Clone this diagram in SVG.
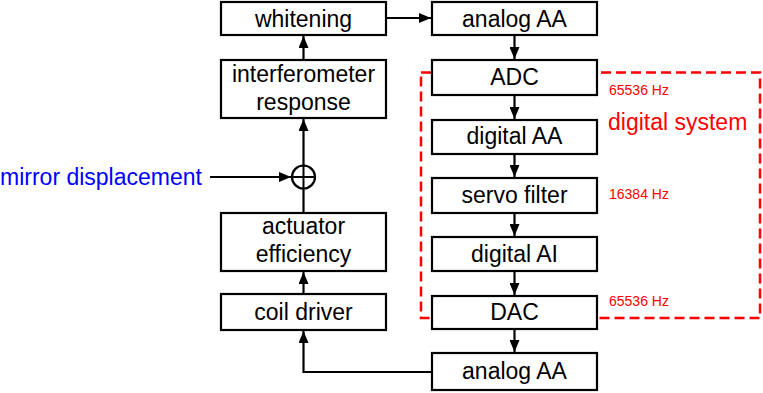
<svg xmlns="http://www.w3.org/2000/svg" width="763" height="393" viewBox="0 0 763 393">
<defs>
<marker id="ah" viewBox="0 0 12 10" refX="12" refY="5" markerWidth="12" markerHeight="10" markerUnits="userSpaceOnUse" orient="auto">
<path d="M0,0 L12,5 L0,10 Z" fill="#000"/>
</marker>
</defs>
<style>
.box{fill:#fff;stroke:#000;stroke-width:2.2}
.t{font-family:"Liberation Sans",Arial,sans-serif;font-size:23px;fill:#000;text-anchor:middle}
.c{fill:none;stroke:#000;stroke-width:2.2}
.a{fill:none;stroke:#000;stroke-width:2.2;marker-end:url(#ah)}
.hz{font-family:"Liberation Sans",Arial,sans-serif;font-size:14px;fill:#ff0000}
</style>
<rect x="421" y="72.5" width="339" height="245.5" fill="none" stroke="#ff0000" stroke-width="2.5" stroke-dasharray="10,5"/>
<g id="connectors">
<path class="a" d="M386,18 L431,18"/>
<path class="a" d="M514.5,35 L514.5,59"/>
<path class="a" d="M514.5,95 L514.5,119"/>
<path class="a" d="M514.5,154 L514.5,177"/>
<path class="a" d="M514.5,213 L514.5,236"/>
<path class="a" d="M514.5,271 L514.5,295"/>
<path class="a" d="M514.5,329 L514.5,352"/>
<path class="a" d="M432,372 L303.5,372 L303.5,331"/>
<path class="a" d="M303.5,294 L303.5,272"/>
<path class="c" d="M303.5,213 L303.5,188.5"/>
<path class="a" d="M303.5,165 L303.5,119"/>
<path class="a" d="M303.5,60 L303.5,36"/>
<path class="a" d="M210,177 L291,177"/>
</g>
<g id="sum">
<circle cx="303.5" cy="177" r="11.5" fill="none" stroke="#000" stroke-width="2.2"/>
<path d="M292,177 L315,177 M303.5,165.5 L303.5,188.5" stroke="#000" stroke-width="2" fill="none"/>
</g>
<g id="whitening"><rect class="box" x="221" y="2" width="165" height="33"/><text class="t" x="303.5" y="27">whitening</text></g>
<g id="interferometer"><rect class="box" x="221" y="60" width="165" height="58"/><text class="t" x="303.5" y="82">interferometer</text><text class="t" x="303.5" y="110">response</text></g>
<g id="actuator"><rect class="box" x="221" y="213" width="165" height="58"/><text class="t" x="303.5" y="234">actuator</text><text class="t" x="303.5" y="262">efficiency</text></g>
<g id="coil"><rect class="box" x="221" y="294" width="165" height="36"/><text class="t" x="303.5" y="320">coil driver</text></g>
<g id="analogAA1"><rect class="box" x="432" y="2" width="165" height="33"/><text class="t" x="514.5" y="27">analog AA</text></g>
<g id="ADC"><rect class="box" x="432" y="60" width="165" height="35"/><text class="t" x="514.5" y="85">ADC</text></g>
<g id="digitalAA"><rect class="box" x="432" y="120" width="165" height="34"/><text class="t" x="514.5" y="144">digital AA</text></g>
<g id="servo"><rect class="box" x="432" y="178" width="165" height="35"/><text class="t" x="514.5" y="203">servo filter</text></g>
<g id="digitalAI"><rect class="box" x="432" y="237" width="165" height="34"/><text class="t" x="514.5" y="262">digital AI</text></g>
<g id="DAC"><rect class="box" x="432" y="296" width="165" height="33"/><text class="t" x="514.5" y="320">DAC</text></g>
<g id="analogAA2"><rect class="box" x="432" y="353" width="165" height="37"/><text class="t" x="514.5" y="379">analog AA</text></g>
<g id="labels">
<text x="0" y="185" font-family="Liberation Sans, Arial, sans-serif" font-size="23" fill="#0000ff">mirror displacement</text>
<text x="608" y="130" font-family="Liberation Sans, Arial, sans-serif" font-size="23" fill="#ff0000">digital system</text>
<text class="hz" x="609" y="95">65536 Hz</text>
<text class="hz" x="609" y="199">16384 Hz</text>
<text class="hz" x="609" y="306">65536 Hz</text>
</g>
</svg>
